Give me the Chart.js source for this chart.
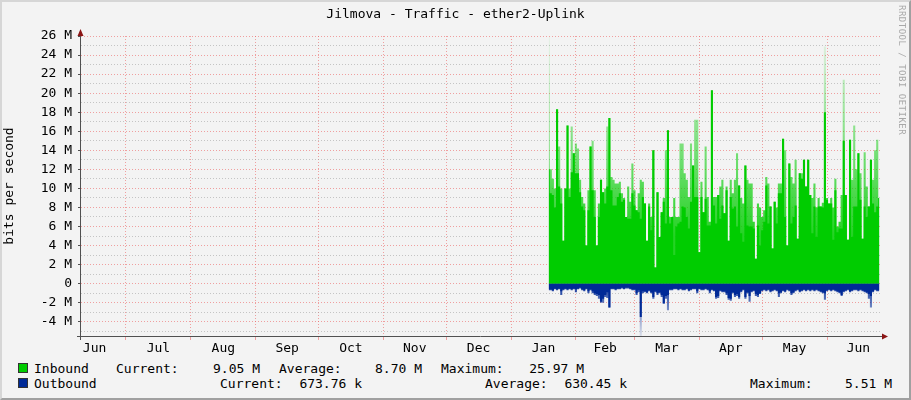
<!DOCTYPE html>
<html>
<head>
<meta charset="utf-8">
<script src="https://cdn.jsdelivr.net/npm/chart.js@4.4.0/dist/chart.umd.min.js"></script>
<style>
  html, body { margin: 0; padding: 0; }
  body {
    width: 911px; height: 400px; position: relative; overflow: hidden;
    background: #f3f3f3; color: #000;
    font-family: "DejaVu Sans Mono", monospace; font-size: 13px;
  }
  #frame {
    position: absolute; left: 0; top: 0; width: 907px; height: 396px;
    border-left: 2px solid #d6d6d6; border-top: 2px solid #d6d6d6;
    border-right: 2px solid #a0a0a0; border-bottom: 2px solid #a0a0a0;
  }
  #chart { position: absolute; left: 0; top: 0; }
  #title { position: absolute; left: 0; top: 6px; width: 911px; text-align: center; line-height: 16px; }
  #stamp {
    position: absolute; left: 897px; top: 5px; writing-mode: vertical-rl;
    font-size: 9px; color: #a8a8a8; letter-spacing: 0.5px;
  }
  .t { position: absolute; white-space: pre; line-height: 14px; }
  .r { text-align: right; }
  .box { position: absolute; width: 8px; height: 8px; border: 1px solid #333; }
</style>
</head>
<body>
<div id="frame"></div>
<canvas id="chart" width="911" height="360"></canvas>
<div id="title">Jilmova - Traffic - ether2-Uplink</div>
<div id="stamp">RRDTOOL / TOBI OETIKER</div>

<div class="box" style="left:18px; top:363px; background:#00cc00;"></div>
<div class="t" style="left:34px; top:362px;">Inbound</div>
<div class="t" style="left:116px; top:362px;">Current:</div>
<div class="t r" style="left:160px; width:100px; top:362px;">9.05 M</div>
<div class="t" style="left:279px; top:362px;">Average:</div>
<div class="t r" style="left:322px; width:100px; top:362px;">8.70 M</div>
<div class="t" style="left:441px; top:362px;">Maximum:</div>
<div class="t r" style="left:484px; width:100px; top:362px;">25.97 M</div>

<div class="box" style="left:18px; top:378px; background:#002a97;"></div>
<div class="t" style="left:34px; top:377px;">Outbound</div>
<div class="t" style="left:220px; top:377px;">Current:</div>
<div class="t r" style="left:262px; width:100px; top:377px;">673.76 k</div>
<div class="t" style="left:485px; top:377px;">Average:</div>
<div class="t r" style="left:527px; width:100px; top:377px;">630.45 k</div>
<div class="t" style="left:750px; top:377px;">Maximum:</div>
<div class="t r" style="left:792px; width:100px; top:377px;">5.51 M</div>

<script>
// x axis is "days since 1 Jun"; the graph spans ~9 Jun .. ~26 Jun next year
const xMin = 8.5;
const xMax = 390.8;
const monthLabels = ['Jun', 'Jul', 'Aug', 'Sep', 'Oct', 'Nov', 'Dec', 'Jan', 'Feb', 'Mar', 'Apr', 'May', 'Jun'];
const monthStarts = [0, 30, 61, 92, 122, 153, 183, 214, 245, 273, 304, 334, 365, 395];

const yLabelValues = [-4, -2, 0, 2, 4, 6, 8, 10, 12, 14, 16, 18, 20, 22, 24, 26];
const yMin = -5.5;
const yMax = 26;

// one value per day, starting at day 232 (mid Jan), in Mbit/s
const firstDay = 232;
const inboundSolid = [
  12, 9.5, 9.3, 8, 18.3, 10.2, 8.4, 4.5, 10, 16.6,
  9.1, 11.7, 13.7, 11.6, 11.6, 9.6, 8.1, 7.7, 4.0, 7.7,
  14.4, 9.8, 7, 4, 7, 10.9, 9.6, 8.4, 10.2, 17.4,
  9.8, 8.2, 8.2, 9.1, 9.5, 8.6, 8.8, 7, 6.8, 6.8,
  9.5, 8.2, 7.7, 7.5, 6.8, 9.1, 8.4, 4.5, 8.1, 5.6,
  14, 1.7, 9.6, 4.9, 7.5, 8.6, 6.3, 16.1, 6.3, 7,
  3, 6, 6.3, 6.5, 8.1, 8, 7, 5.8, 8.6, 12.4,
  9.1, 9.1, 3.3, 9.1, 7.5, 8.9, 6.1, 6.1, 20.3, 8.2,
  6.3, 9.3, 6.8, 8.2, 7.4, 9.8, 4.5, 9.1, 7.9, 8.1,
  6, 10.3, 5.3, 4.4, 12.4, 6.1, 6, 6, 5.8, 2.6,
  6.1, 4, 5.6, 6.5, 10.3, 6.3, 8.1, 3.7, 8.6, 6.3,
  9.5, 9.5, 15.2, 7, 4, 12.6, 6.3, 7, 8.2, 4.7,
  11.6, 11, 13, 10.2, 13, 9.3, 5.3, 8.1, 4.9, 8.1,
  8.1, 8, 18, 8.8, 8.4, 8.4, 4.6, 9.8, 5.4, 5.8,
  5.8, 15, 9.3, 4.6, 15.1, 4.9, 8.1, 8.1, 13.7, 8.8,
  4.7, 8.1, 7, 8.1, 13, 8.4, 7.5, 8.1, 9
];
const inboundPeak = [
  25.9, 12, 11, 10, 18.3, 14.4, 10, 4.5, 10, 16.6,
  10, 16.5, 13.7, 14.7, 14.2, 10.9, 9.1, 8.4, 4, 9.8,
  14.4, 15, 9.8, 4, 8.4, 10.9, 9.6, 10, 16.5, 17.4,
  11.2, 10.9, 10.5, 10.5, 10.7, 9.5, 9, 7, 10.2, 8.6,
  12.6, 9.8, 7.7, 9.5, 10.9, 10.7, 8.4, 4.5, 8.4, 7,
  14, 1.7, 9.6, 4.9, 7.5, 9, 14, 16.1, 7, 7,
  9, 7, 7, 14.7, 14.7, 11.6, 10.9, 9.1, 14.7, 12.4,
  17.2, 17.2, 3.3, 10.7, 7.5, 14.4, 9.1, 6.5, 20.3, 9.1,
  9.1, 9.3, 10.2, 10.9, 7.4, 10.2, 4.5, 10.9, 9.5, 10.9,
  13.7, 10.3, 9, 8.4, 12.4, 10.9, 10.5, 10.5, 6.5, 2.6,
  8.4, 8, 7, 7.7, 11.2, 10.5, 8.1, 3.7, 8.6, 8,
  10.5, 10.5, 15.2, 14, 4, 12.6, 11.2, 10.5, 13, 4.7,
  11.6, 11.6, 13, 10.2, 13, 9.3, 9, 10.5, 8, 9,
  8.1, 8.5, 24.9, 9, 8.4, 9, 8, 11, 6, 6.5,
  9.3, 21.4, 9.3, 4.6, 15.1, 10.9, 16.6, 12, 13.7, 11.6,
  4.7, 13.8, 10.2, 8.1, 13, 10.9, 14, 15.1, 9
];
const outboundSolid = [
  -0.6, -0.6, -0.7, -0.5, -0.6, -0.5, -0.8, -0.6, -0.5, -0.6,
  -0.5, -0.6, -0.5, -0.6, -0.5, -0.4, -0.6, -0.7, -0.5, -0.8,
  -0.6, -0.8, -1.0, -1.1, -1.2, -1.9, -1.6, -1.2, -0.9, -2.5,
  -0.5, -0.5, -0.6, -0.5, -0.5, -0.4, -0.5, -0.4, -0.4, -0.5,
  -0.6, -0.6, -1.0, -0.7, -3.5, -0.8, -0.8, -0.9, -0.7, -0.9,
  -1.4, -0.8, -1.0, -0.9, -1.2, -2.1, -1.3, -1.2, -0.6, -0.6,
  -0.5, -0.5, -0.6, -0.5, -0.6, -0.6, -0.5, -0.7, -0.6, -0.5,
  -0.5, -0.8, -0.5, -0.6, -0.6, -0.5, -0.6, -0.8, -0.6, -0.7,
  -1.4, -1.3, -0.7, -0.8, -0.8, -1.0, -1.5, -1.6, -0.9, -1.2,
  -1.1, -1.4, -0.8, -0.6, -1.4, -0.9, -1.3, -0.8, -0.7, -1.1,
  -1.2, -1.0, -0.7, -0.6, -0.7, -0.6, -0.8, -0.7, -0.6, -0.7,
  -1.0, -0.9, -0.7, -0.8, -0.6, -0.7, -1.0, -0.9, -0.7, -0.6,
  -0.8, -0.7, -0.6, -0.7, -0.6, -0.7, -0.6, -0.7, -0.6, -0.7,
  -0.8, -0.9, -1.0, -0.7, -0.6, -0.7, -0.6, -0.7, -0.8, -0.9,
  -1.2, -0.8, -0.7, -0.6, -0.8, -0.7, -0.6, -0.6, -0.7, -0.6,
  -0.7, -0.8, -0.9, -1.1, -1.3, -0.8, -0.6, -0.7, -0.7
];
const outboundPeak = [
  -0.7, -0.7, -0.8, -0.6, -0.7, -0.6, -1.2, -0.7, -0.6, -0.7,
  -0.6, -0.7, -0.6, -0.9, -0.6, -0.5, -0.7, -0.8, -0.6, -1.0,
  -0.7, -1.0, -1.2, -1.3, -1.6, -2.0, -2.0, -1.4, -1.5, -2.5,
  -0.6, -0.6, -0.7, -0.6, -0.6, -0.5, -0.6, -0.5, -0.5, -0.6,
  -0.7, -0.7, -1.2, -0.9, -5.5, -1.0, -0.9, -1.0, -0.8, -1.0,
  -1.6, -0.9, -1.2, -1.0, -1.4, -2.1, -1.6, -2.8, -0.7, -0.7,
  -0.6, -0.6, -0.7, -0.6, -0.7, -0.7, -0.6, -0.8, -0.7, -0.6,
  -0.6, -1.0, -0.6, -0.7, -0.7, -0.6, -0.7, -1.0, -0.7, -0.8,
  -1.6, -1.5, -0.8, -0.9, -0.9, -1.2, -1.7, -1.8, -1.0, -1.4,
  -1.3, -1.6, -0.9, -0.7, -1.6, -1.0, -1.9, -0.9, -0.8, -1.3,
  -1.4, -1.1, -0.8, -0.7, -0.8, -0.7, -0.9, -0.8, -0.7, -0.8,
  -1.4, -1.0, -0.8, -0.9, -0.7, -0.8, -1.2, -1.0, -0.8, -0.7,
  -0.9, -0.8, -0.7, -0.8, -0.7, -0.8, -0.7, -0.8, -0.7, -0.8,
  -0.9, -1.0, -1.7, -0.8, -0.7, -0.8, -0.7, -0.8, -0.9, -1.0,
  -1.3, -0.9, -0.8, -0.7, -0.9, -0.8, -0.7, -0.7, -0.8, -0.7,
  -0.8, -0.9, -1.0, -1.6, -2.5, -0.9, -0.7, -0.8, -0.8
];

const days = inboundSolid.map((_, i) => firstDay + i);
const pts = arr => arr.map((v, i) => ({ x: days[i], y: v }));

// month labels sit in the middle of each month, grid lines at month starts
const monthMids = monthLabels.map((_, i) => (monthStarts[i] + monthStarts[i + 1]) / 2);
const gridStarts = monthStarts.filter(d => d > xMin && d < xMax);
const xTicks = gridStarts.concat(monthMids).sort((a, b) => a - b);

const majorGrid = 'rgba(235, 90, 90, 0.55)';
const minorGrid = 'rgba(150, 150, 150, 0.5)';

function fade(chart, rgb, v0, v1, a0, a1) {
  const { ctx, chartArea, scales } = chart;
  if (!chartArea) return 'rgba(' + rgb + ',' + a0 + ')';
  const g = ctx.createLinearGradient(0, scales.y.getPixelForValue(v0), 0, scales.y.getPixelForValue(v1));
  g.addColorStop(0, 'rgba(' + rgb + ',' + a0 + ')');
  g.addColorStop(1, 'rgba(' + rgb + ',' + a1 + ')');
  return g;
}

const axisArrows = {
  id: 'axisArrows',
  afterDraw(chart) {
    const { ctx, chartArea: a } = chart;
    ctx.save();
    ctx.strokeStyle = '#505050';
    ctx.lineWidth = 1;
    ctx.beginPath();
    ctx.moveTo(a.left - 0.5, a.bottom + 4);
    ctx.lineTo(a.left - 0.5, a.top - 4);
    ctx.moveTo(a.left - 4, a.bottom + 0.5);
    ctx.lineTo(a.right + 3, a.bottom + 0.5);
    ctx.stroke();
    ctx.fillStyle = '#8b1515';
    ctx.beginPath();
    ctx.moveTo(a.left - 0.5, a.top - 7);
    ctx.lineTo(a.left - 3.5, a.top);
    ctx.lineTo(a.left + 2.5, a.top);
    ctx.closePath();
    ctx.fill();
    ctx.beginPath();
    ctx.moveTo(a.right + 7, a.bottom + 0.5);
    ctx.lineTo(a.right + 1, a.bottom - 2.5);
    ctx.lineTo(a.right + 1, a.bottom + 3.5);
    ctx.closePath();
    ctx.fill();
    ctx.restore();
  }
};

const monoFont = { family: 'DejaVu Sans Mono', size: 13 };

new Chart(document.getElementById('chart').getContext('2d'), {
  type: 'line',
  data: {
    datasets: [
      {
        label: 'Inbound',
        data: pts(inboundSolid),
        backgroundColor: '#00cc00',
        fill: 'origin',
        order: 1
      },
      {
        label: 'Inbound peak',
        data: pts(inboundPeak),
        backgroundColor: c => fade(c.chart, '0,204,0', 5, 26, 0.85, 0.05),
        fill: 'origin',
        order: 3
      },
      {
        label: 'Outbound',
        data: pts(outboundSolid),
        backgroundColor: '#002a97',
        fill: 'origin',
        order: 2
      },
      {
        label: 'Outbound peak',
        data: pts(outboundPeak),
        backgroundColor: c => fade(c.chart, '0,42,151', -0.5, -5.5, 0.85, 0.1),
        fill: 'origin',
        order: 4
      }
    ]
  },
  options: {
    responsive: false,
    animation: false,
    layout: { padding: { top: 36, right: 30, left: 0, bottom: 0 } },
    elements: {
      point: { radius: 0 },
      line: { borderWidth: 0, tension: 0, stepped: 'middle' }
    },
    plugins: { legend: { display: false }, tooltip: { enabled: false } },
    scales: {
      x: {
        type: 'linear',
        min: xMin,
        max: xMax,
        z: 1,
        afterBuildTicks: s => { s.ticks = xTicks.map(v => ({ value: v })); },
        afterFit: s => { s.height = 24; },
        grid: {
          color: c => (c.tick && gridStarts.includes(c.tick.value)) ? majorGrid : 'transparent',
          tickColor: c => (c.tick && gridStarts.includes(c.tick.value)) ? majorGrid : 'transparent',
          tickLength: 4,
          lineWidth: 1
        },
        border: { display: false, dash: [1, 2] },
        ticks: {
          autoSkip: false,
          maxRotation: 0,
          minRotation: 0,
          padding: 1,
          color: '#000',
          font: monoFont,
          callback: v => {
            const i = monthMids.indexOf(v);
            return i >= 0 ? monthLabels[i] : '';
          }
        }
      },
      y: {
        type: 'linear',
        min: yMin,
        max: yMax,
        afterBuildTicks: s => {
          const t = [];
          for (let v = Math.ceil(yMin); v <= yMax; v++) t.push({ value: v });
          s.ticks = t;
        },
        afterFit: s => { s.width = 81; },
        grid: {
          color: c => (c.tick && yLabelValues.includes(c.tick.value)) ? majorGrid : minorGrid,
          tickColor: c => (c.tick && yLabelValues.includes(c.tick.value)) ? '#505050' : 'transparent',
          tickLength: 3,
          tickBorderDash: []
        },
        border: { display: false, dash: [1, 2] },
        ticks: {
          autoSkip: false,
          padding: 6,
          color: '#000',
          font: monoFont,
          callback: v => yLabelValues.includes(v) ? (v === 0 ? '0' : v + ' M') : ''
        },
        title: {
          display: true,
          text: 'bits per second',
          color: '#000',
          font: monoFont,
          padding: { top: 2, bottom: 0 }
        }
      }
    }
  },
  plugins: [axisArrows]
});
</script>
</body>
</html>
